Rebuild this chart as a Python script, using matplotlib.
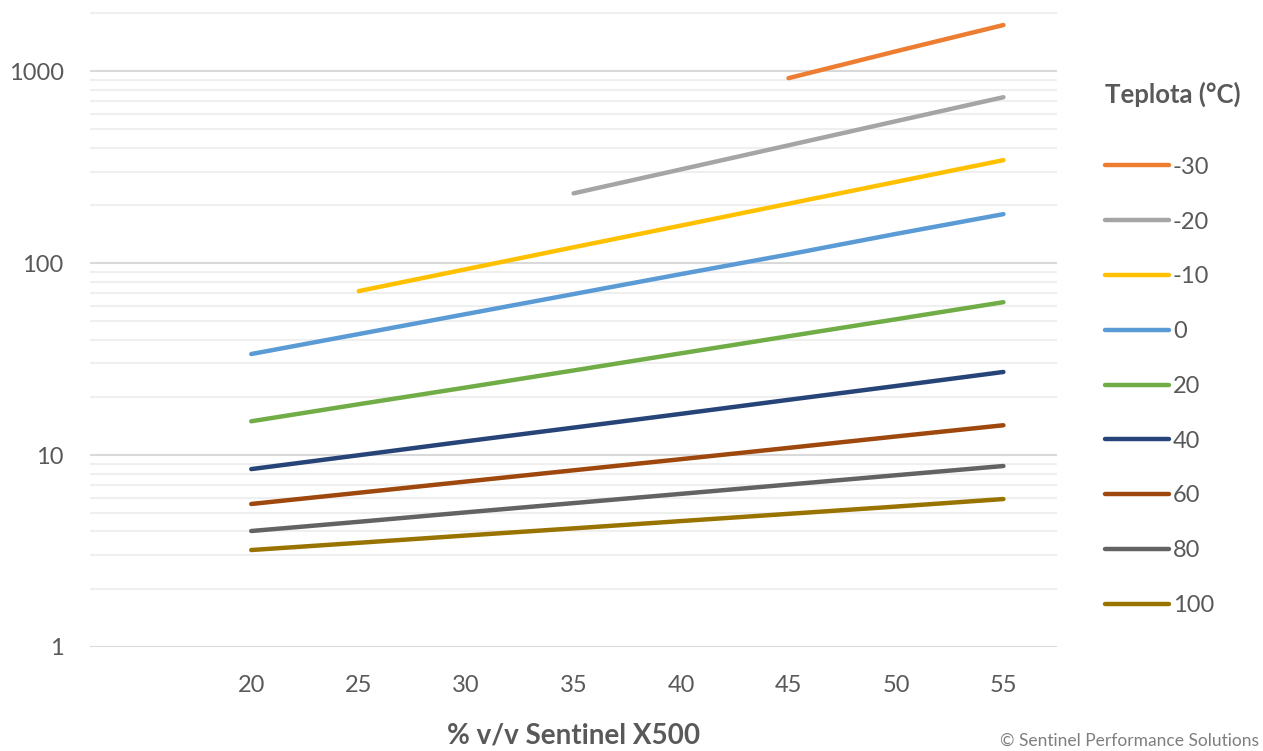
import numpy as np
import matplotlib
matplotlib.use("Agg")
import matplotlib.pyplot as plt
from matplotlib.ticker import LogLocator, FixedLocator, NullFormatter

plt.rcParams['font.family'] = ['Lato', 'DejaVu Sans']

# data (viscosity-like values, log scale)
pct = [20, 25, 30, 35, 40, 45, 50, 55]
temps = ['-30', '-20', '-10', '0', '20', '40', '60', '80', '100']
colours = ['#ED7D31', '#A5A5A5', '#FFC000', '#5B9BD5', '#70AD47',
           '#264478', '#9E480E', '#636363', '#997300']

s_m30 = [None, None, None, None, None, 920, 1270, 1740]
s_m20 = [None, None, None, 231, 308, 411, 549, 732]
s_m10 = [None, 71.5, 93, 121, 157, 204, 265, 344]
s_0 = [33.6, 42.7, 54.3, 69, 87.7, 111, 142, 180]
s_20 = [15.0, 18.4, 22.5, 27.6, 33.9, 41.6, 51, 62.6]
s_40 = [8.45, 9.98, 11.8, 13.9, 16.4, 19.4, 22.9, 27.1]
s_60 = [5.56, 6.36, 7.28, 8.33, 9.52, 10.9, 12.5, 14.3]
s_80 = [4.02, 4.49, 5.03, 5.62, 6.28, 7.02, 7.85, 8.77]
s_100 = [3.2, 3.49, 3.81, 4.15, 4.53, 4.94, 5.39, 5.9]
series = [s_m30, s_m20, s_m10, s_0, s_20, s_40, s_60, s_80, s_100]

txt = '#595959'

fig = plt.figure(figsize=(12.63, 7.51), dpi=100)
ax = fig.add_axes([0.0713, 0.1385, 0.7657, 0.8615])

for name, vals, c in zip(temps, series, colours):
    x = [p for p, v in zip(pct, vals) if v is not None]
    y = [v for v in vals if v is not None]
    ax.plot(x, y, color=c, lw=3.2, solid_capstyle='round', label=name)

ax.set_yscale('log')
ax.set_ylim(1, 2350)
ax.set_xlim(12.5, 57.5)
ax.set_xticks(pct)
ax.yaxis.set_major_locator(FixedLocator([1, 10, 100, 1000]))
ax.set_yticklabels(['1', '10', '100', '1000'])
ax.yaxis.set_minor_locator(LogLocator(base=10, subs=np.arange(2, 10)))
ax.yaxis.set_minor_formatter(NullFormatter())

ax.grid(True, which='major', axis='y', color='#d9d9d9', lw=1.5)
ax.grid(True, which='minor', axis='y', color='#efefef', lw=1.5)
ax.set_axisbelow(True)
for sp in ax.spines.values():
    sp.set_visible(False)
ax.tick_params(axis='both', which='both', length=0, labelsize=17, labelcolor=txt)
ax.tick_params(axis='x', pad=20)
ax.tick_params(axis='y', pad=19)

ax.set_xlabel('% v/v Sentinel X500', fontsize=20, fontweight='bold', color=txt, labelpad=19)

leg = ax.legend(loc='upper left', bbox_to_anchor=(1.028, 0.907), frameon=False,
                fontsize=17, handlelength=2.7, handletextpad=0.15,
                labelspacing=1.43, title='Teplota (°C)', alignment='left',
                title_fontproperties={'size': 18.5, 'weight': 'bold'})
leg.get_title().set_color(txt)
leg._legend_box.sep = 36
for t in leg.get_texts():
    t.set_color(txt)

fig.text(0.792, 0.003, '© Sentinel Performance Solutions', fontsize=12.5,
         color='#7f7f7f', ha='left', va='bottom')

fig.savefig('out.png', dpi=100)
